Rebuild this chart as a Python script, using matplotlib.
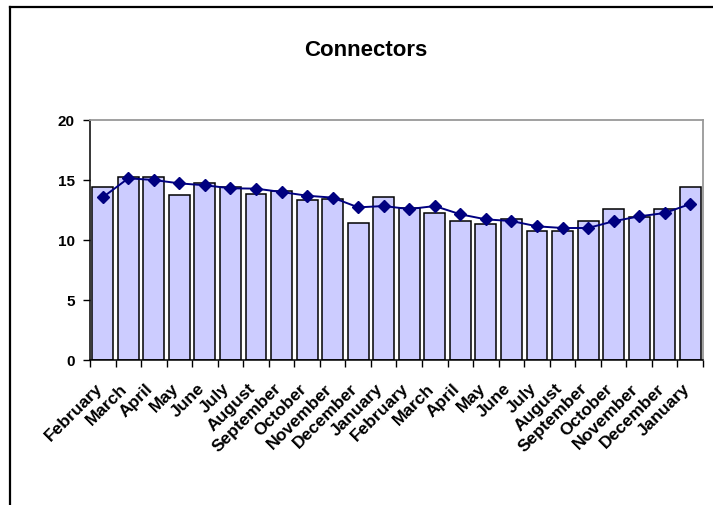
import matplotlib
matplotlib.use("Agg")
import matplotlib.pyplot as plt
import matplotlib.transforms as mtransforms
from matplotlib.lines import Line2D
import numpy as np

plt.rcParams["font.family"] = ["Liberation Sans", "DejaVu Sans"]
plt.rcParams["font.weight"] = "bold"

months = ["February", "March", "April", "May", "June", "July", "August",
          "September", "October", "November", "December", "January",
          "February", "March", "April", "May", "June", "July", "August",
          "September", "October", "November", "December", "January"]
monthly = [14.44, 15.28, 15.28, 13.72, 14.75, 14.44, 13.86, 14.06, 13.31,
           13.44, 11.42, 13.58, 12.69, 12.28, 11.58, 11.31, 11.75, 10.72,
           10.72, 11.61, 12.58, 11.89, 12.61, 14.44]
trend = [13.56, 15.14, 15.00, 14.72, 14.56, 14.31, 14.28, 14.00, 13.69,
         13.53, 12.72, 12.83, 12.58, 12.83, 12.14, 11.72, 11.58, 11.14,
         11.00, 11.00, 11.56, 11.97, 12.25, 13.00]
yticks = [0, 5, 10, 15, 20]

W, H = 713, 505
fig = plt.figure(figsize=(W / 100, H / 100), dpi=100)
ax = fig.add_axes([90 / W, 1 - 360 / H, 613 / W, 240 / H])

x = np.arange(len(months))
ax.bar(x, monthly, width=0.82, color="#CCCCFF", edgecolor="black",
       linewidth=1.1, zorder=2)
ax.plot(x, trend, color="#000080", linewidth=1.4, marker="D",
        markersize=5.8, markerfacecolor="#000080", zorder=3)

ax.set_xlim(-0.5, len(months) - 0.5)
ax.set_ylim(0, 20)
ax.set_yticks(yticks)
ax.set_yticklabels([str(v) for v in yticks], fontsize=11, fontweight="bold")

# tick marks sit between categories, labels at the bar centres
ax.set_xticks(x)
ax.set_xticklabels(months, rotation=45, ha="right", va="center",
                   rotation_mode="anchor", fontsize=12.5, fontweight="bold")
ax.set_xticks(np.arange(len(months) + 1) - 0.5, minor=True)
ax.tick_params(axis="x", which="major", length=0, pad=19)
ax.tick_params(axis="x", which="minor", length=5, width=1, direction="out")
ax.tick_params(axis="y", length=5, width=1, direction="out", pad=6)
shift = mtransforms.ScaledTranslation(-3 / 100, 0, fig.dpi_scale_trans)
for lbl in ax.get_xticklabels():
    lbl.set_transform(lbl.get_transform() + shift)

for side in ["top", "right"]:
    ax.spines[side].set_color("#999999")
    ax.spines[side].set_linewidth(1.3)
for side in ["left", "bottom"]:
    ax.spines[side].set_color("black")
    ax.spines[side].set_linewidth(1.1)

fig.text(366 / W, 1 - 50 / H, "Connectors", ha="center", va="center",
         fontsize=16, fontweight="bold")

# chart area border
fig.add_artist(Line2D([10 / W, 1], [1 - 6.5 / H, 1 - 6.5 / H],
                      transform=fig.transFigure, color="black", linewidth=1.6))
fig.add_artist(Line2D([10 / W, 10 / W], [0, 1 - 6.5 / H],
                      transform=fig.transFigure, color="black", linewidth=1.6))

fig.savefig("out.png", dpi=100)
